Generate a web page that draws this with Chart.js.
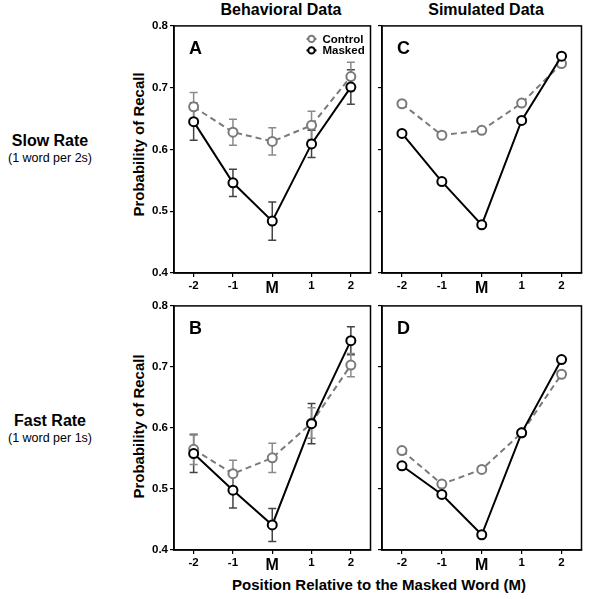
<!DOCTYPE html>
<html>
<head>
<meta charset="utf-8">
<script src="https://cdn.jsdelivr.net/npm/chart.js@4.4.0/dist/chart.umd.min.js"></script>
<style>
  body { margin: 0; background: #fff; width: 598px; height: 599px; position: relative; overflow: hidden;
         font-family: "Liberation Sans", Arial, sans-serif; }
  canvas { position: absolute; }
  .lbl { position: absolute; font-weight: bold; color: #000; white-space: nowrap; }
</style>
</head>
<body>
<div class="lbl" style="left:181px;width:200px;top:1px;text-align:center;font-size:16px;">Behavioral Data</div>
<div class="lbl" style="left:385px;width:202px;top:1px;text-align:center;font-size:16px;">Simulated Data</div>

<div class="lbl" style="left:0;width:100px;top:132px;text-align:center;font-size:16px;">Slow Rate</div>
<div class="lbl" style="left:0;width:100px;top:151px;text-align:center;font-size:12.5px;font-weight:normal;">(1 word per 2s)</div>
<div class="lbl" style="left:0;width:100px;top:412px;text-align:center;font-size:16px;">Fast Rate</div>
<div class="lbl" style="left:0;width:100px;top:431px;text-align:center;font-size:12.5px;font-weight:normal;">(1 word per 1s)</div>

<div class="lbl" style="left:63px;top:136px;width:150px;text-align:center;font-size:15px;transform:rotate(-90deg);">Probability of Recall</div>
<div class="lbl" style="left:63px;top:418px;width:150px;text-align:center;font-size:15px;transform:rotate(-90deg);">Probability of Recall</div>

<div class="lbl" style="left:174px;width:410px;top:576px;text-align:center;font-size:15px;">Position Relative to the Masked Word (M)</div>

<canvas id="chartA" width="243" height="286" style="left:134px;top:17px;"></canvas>
<canvas id="chartC" width="246" height="286" style="left:342px;top:17px;"></canvas>
<canvas id="chartB" width="243" height="283" style="left:134px;top:297px;"></canvas>
<canvas id="chartD" width="246" height="283" style="left:342px;top:297px;"></canvas>

<script>
// serial positions around the masked word
var positions = ["-2", "-1", "M", "1", "2"];

// behavioral data, slow rate (panel A)
var behavSlowControl = [0.669, 0.628, 0.613, 0.639, 0.718];
var behavSlowControlErr = [0.023, 0.021, 0.022, 0.023, 0.023];
var behavSlowMasked = [0.645, 0.546, 0.484, 0.609, 0.701];
var behavSlowMaskedErr = [0.030, 0.022, 0.031, 0.022, 0.028];

// behavioral data, fast rate (panel B)
var behavFastControl = [0.565, 0.525, 0.551, 0.608, 0.703];
var behavFastControlErr = [0.025, 0.022, 0.024, 0.025, 0.019];
var behavFastMasked = [0.558, 0.498, 0.441, 0.607, 0.743];
var behavFastMaskedErr = [0.031, 0.029, 0.027, 0.033, 0.023];

// simulated data (panels C and D)
var simSlowControl = [0.674, 0.623, 0.631, 0.675, 0.739];
var simSlowMasked = [0.626, 0.548, 0.478, 0.647, 0.751];
var simFastControl = [0.563, 0.508, 0.532, 0.592, 0.688];
var simFastMasked = [0.538, 0.491, 0.425, 0.592, 0.712];

var FONT = "'Liberation Sans', Arial, sans-serif";
var GRAY = "#7a7a7a";

// draws the error bars under the points
var errorBarPlugin = {
  id: "errorBars",
  beforeDatasetsDraw: function(chart) {
    var ctx = chart.ctx;
    var yScale = chart.scales.y;
    chart.data.datasets.forEach(function(ds, i) {
      if (!ds.errors) return;
      var meta = chart.getDatasetMeta(i);
      ctx.save();
      ctx.strokeStyle = ds.errorColor;
      ctx.lineWidth = 1.5;
      meta.data.forEach(function(pt, j) {
        var top = yScale.getPixelForValue(ds.data[j] + ds.errors[j]);
        var bot = yScale.getPixelForValue(ds.data[j] - ds.errors[j]);
        ctx.beginPath();
        ctx.moveTo(pt.x, top); ctx.lineTo(pt.x, bot);
        ctx.moveTo(pt.x - 4, top); ctx.lineTo(pt.x + 4, top);
        ctx.moveTo(pt.x - 4, bot); ctx.lineTo(pt.x + 4, bot);
        ctx.stroke();
      });
      ctx.restore();
    });
  }
};

// box around the plot, panel letter and (panel A only) legend
var framePlugin = {
  id: "frame",
  afterDraw: function(chart, args, opts) {
    var ctx = chart.ctx;
    var a = chart.chartArea;
    ctx.save();
    ctx.strokeStyle = "#000";
    ctx.lineWidth = 1.5;
    ctx.strokeRect(a.left, a.top, a.right - a.left, a.bottom - a.top);
    ctx.fillStyle = "#000";
    ctx.font = "bold 18px " + FONT;
    ctx.textBaseline = "alphabetic";
    ctx.fillText(opts.letter, a.left + 15, a.top + 28);
    if (opts.legend) {
      var rows = [chart.data.datasets[1], chart.data.datasets[0]];
      rows.forEach(function(ds, r) {
        var y = a.top + 13 + r * 11.5;
        var x = a.right - 64;
        ctx.strokeStyle = ds.borderColor;
        ctx.lineWidth = 2;
        ctx.beginPath();
        ctx.moveTo(x, y); ctx.lineTo(x + 10, y);
        ctx.stroke();
        ctx.beginPath();
        ctx.arc(x + 5, y, 3.2, 0, Math.PI * 2);
        ctx.fillStyle = "#fff";
        ctx.fill();
        ctx.stroke();
        ctx.fillStyle = "#000";
        ctx.font = "bold 11.5px " + FONT;
        ctx.textBaseline = "middle";
        ctx.fillText(ds.label, x + 16, y + 0.5);
      });
    }
    ctx.restore();
  }
};

function makeChart(id, letter, control, masked, controlErr, maskedErr, showYLabels, showLegend) {
  var ctx = document.getElementById(id).getContext("2d");
  return new Chart(ctx, {
    type: "line",
    data: {
      labels: positions,
      datasets: [{
        label: "Masked",
        data: masked,
        errors: maskedErr,
        errorColor: "#444",
        borderColor: "#000",
        borderWidth: 2,
        pointRadius: 4.5,
        pointBorderWidth: 2,
        pointBackgroundColor: "#fff",
        pointBorderColor: "#000"
      }, {
        label: "Control",
        data: control,
        errors: controlErr,
        errorColor: "#8a8a8a",
        borderColor: GRAY,
        borderWidth: 2,
        borderDash: [6, 4],
        pointRadius: 4.5,
        pointBorderWidth: 2,
        pointBackgroundColor: "#fff",
        pointBorderColor: GRAY
      }]
    },
    options: {
      responsive: false,
      animation: false,
      layout: { padding: { top: 6, right: 4, left: 0, bottom: 0 } },
      plugins: {
        legend: { display: false },
        tooltip: { enabled: false },
        frame: { letter: letter, legend: showLegend }
      },
      scales: {
        x: {
          type: "category",
          offset: true,
          afterFit: function(s) { s.height = 30; },
          grid: { offset: false, drawOnChartArea: false, drawTicks: true, tickLength: 4, color: "#000", lineWidth: 1.2 },
          border: { display: true, color: "#000", width: 1.5 },
          ticks: {
            color: "#000",
            padding: 2,
            maxRotation: 0,
            font: function(c) {
              var big = c.tick && c.tick.label === "M";
              return { family: FONT, weight: "bold", size: big ? 16 : 11.5 };
            }
          }
        },
        y: {
          min: 0.4,
          max: 0.8,
          afterFit: function(s) { s.width = 40; },
          grid: { drawOnChartArea: false, drawTicks: true, tickLength: 4, color: "#000", lineWidth: 1.2 },
          border: { display: true, color: "#000", width: 1.5 },
          ticks: {
            stepSize: 0.1,
            padding: 2,
            color: showYLabels ? "#000" : "rgba(0,0,0,0)",
            font: { family: FONT, weight: "bold", size: 11.5 },
            callback: function(v) { return v.toFixed(1); }
          }
        }
      }
    },
    plugins: [errorBarPlugin, framePlugin]
  });
}

makeChart("chartA", "A", behavSlowControl, behavSlowMasked, behavSlowControlErr, behavSlowMaskedErr, true, true);
makeChart("chartC", "C", simSlowControl, simSlowMasked, null, null, false, false);
makeChart("chartB", "B", behavFastControl, behavFastMasked, behavFastControlErr, behavFastMaskedErr, true, false);
makeChart("chartD", "D", simFastControl, simFastMasked, null, null, false, false);
</script>
</body>
</html>
